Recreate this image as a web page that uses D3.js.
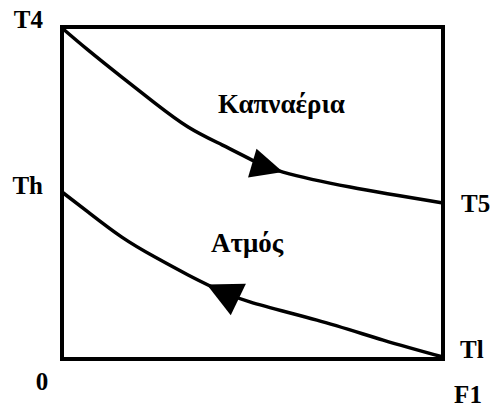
<!DOCTYPE html>
<html><head><meta charset="utf-8">
<script src="https://cdn.jsdelivr.net/npm/d3@7"></script>
<style>
html,body{margin:0;padding:0;background:#fff;}
svg{display:block;}
</style></head>
<body>
<script>
// Data (F fraction along exchanger, normalised temperature)
const upperF = [0, 0.068, 0.157, 0.244, 0.331, 0.42, 0.499, 0.58, 0.756, 1];
const upperT = [0.997, 0.931, 0.849, 0.771, 0.699, 0.645, 0.599, 0.563, 0.518, 0.470];
const lowerF = [0, 0.068, 0.157, 0.244, 0.331, 0.394, 0.493, 0.669, 0.843, 1];
const lowerT = [0.503, 0.443, 0.367, 0.307, 0.253, 0.217, 0.172, 0.117, 0.057, 0.006];
const seriesNames = ["Καπναέρια", "Ατμός"];
const leftLabels = ["T4", "Th"];
const rightLabels = ["T5", "Tl"];
const bottomLabels = ["0", "F1"];

const W = 491, H = 407;
const x = d3.scaleLinear().domain([0, 1]).range([62, 443]);
const y = d3.scaleLinear().domain([0, 1]).range([359, 27]);

const svg = d3.select("body").append("svg").attr("width", W).attr("height", H);

svg.append("rect").attr("x", x(0)).attr("y", y(1))
  .attr("width", x(1) - x(0)).attr("height", y(0) - y(1))
  .attr("fill", "none").attr("stroke", "#000").attr("stroke-width", 4);

const line = d3.line().x(d => x(d[0])).y(d => y(d[1])).curve(d3.curveNatural);
const up = upperF.map((f, i) => [f, upperT[i]]);
const lo = lowerF.map((f, i) => [f, lowerT[i]]);

const pU = svg.append("path").datum(up).attr("d", line)
  .attr("fill", "none").attr("stroke", "#000").attr("stroke-width", 3.5);
const pL = svg.append("path").datum(lo).attr("d", line)
  .attr("fill", "none").attr("stroke", "#000").attr("stroke-width", 3.5);

function pointAtX(node, tx) {
  const L = node.getTotalLength();
  let a = 0, b = L;
  for (let k = 0; k < 40; k++) {
    const m = (a + b) / 2;
    if (node.getPointAtLength(m).x < tx) a = m; else b = m;
  }
  return a;
}
function arrow(node, fx, dir, len, wid) {
  const s = pointAtX(node, x(fx));
  const p = node.getPointAtLength(s);
  const q = node.getPointAtLength(s - dir * 6);
  let dx = p.x - q.x, dy = p.y - q.y;
  const n = Math.hypot(dx, dy); dx /= n; dy /= n;
  const bx = p.x - dx * len, by = p.y - dy * len;
  const px = -dy, py = dx;
  svg.append("path")
    .attr("d", `M${p.x},${p.y}L${bx + px * wid / 2},${by + py * wid / 2}L${bx - px * wid / 2},${by - py * wid / 2}Z`)
    .attr("fill", "#000");
}
arrow(pU.node(), 0.58, 1, 32, 30);
arrow(pL.node(), 0.38, -1, 35, 35);

function label(tx, ty, str, anchor, size) {
  svg.append("text").attr("x", tx).attr("y", ty)
    .attr("text-anchor", anchor || "start")
    .style("font-family", "Liberation Serif").style("font-weight", "bold")
    .style("font-size", size + "px").attr("fill", "#000").text(str);
}
label(218, 113, seriesNames[0], "start", 27);
label(211, 252, seriesNames[1], "start", 27);

const fs = 25;
label(x(0) - 19, y(upperT[0]), leftLabels[0], "end", fs);
label(x(0) - 19, y(lowerT[0]) + 2, leftLabels[1], "end", fs);
label(x(1) + 18, y(upperT[upperT.length - 1]) + 9, rightLabels[0], "start", fs);
label(x(1) + 17, y(lowerT[lowerT.length - 1]) + 1, rightLabels[1], "start", fs);
label(x(0) - 20, y(0) + 31, bottomLabels[0], "middle", fs);
label(x(1) + 25, y(0) + 44, bottomLabels[1], "middle", fs);
</script>
</body></html>
